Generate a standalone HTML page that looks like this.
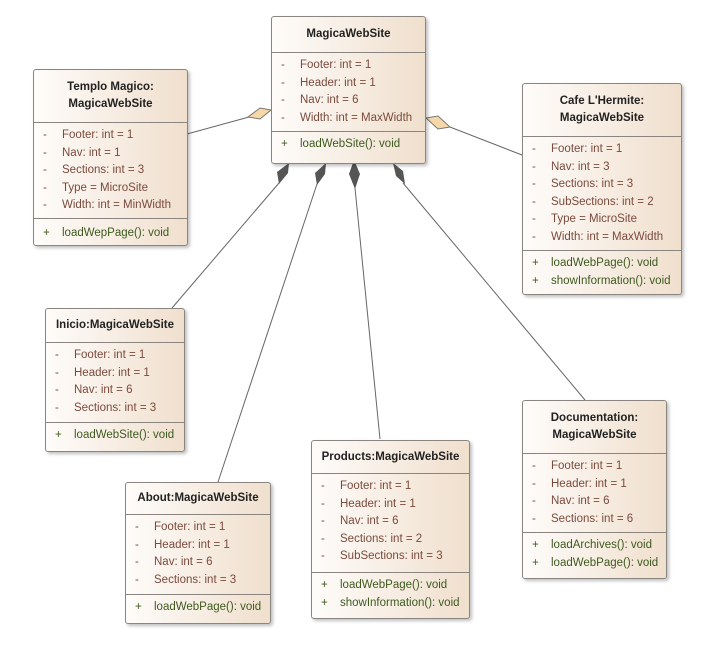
<!DOCTYPE html>
<html><head><meta charset="utf-8"><style>
body{margin:0;background:#fff;width:718px;height:650px;overflow:hidden;position:relative;font-family:"Liberation Sans",sans-serif;}
.b{position:absolute;border:1px solid #8a8580;border-radius:3px;background:linear-gradient(to right,#fefcfa,#f0dfcd);box-shadow:2px 2px 3px rgba(0,0,0,0.25);box-sizing:border-box;}
.t{font-weight:bold;font-size:11.5px;color:#222;text-align:center;line-height:17px;border-bottom:1px solid #8a8580;box-sizing:border-box;display:flex;flex-direction:column;justify-content:center;}
.s{border-bottom:1px solid #8a8580;box-sizing:border-box;padding-top:4px;}
.m{box-sizing:border-box;padding-top:4px;}
.l{position:relative;font-size:11.5px;line-height:17.5px;height:17.5px;white-space:nowrap;}
.l span{position:absolute;left:9px;}
.l i{font-style:normal;position:absolute;left:28px;}
.s .l{color:#7b4a3c}
.m .l{color:#3d5a1e}
</style></head><body>
<svg width="718" height="650" style="position:absolute;left:0;top:0">
<g stroke="#666" stroke-width="1" fill="none">
<line x1="187" y1="134" x2="249" y2="117"/>
<line x1="450" y1="127" x2="522" y2="155"/>
<line x1="279" y1="183" x2="172" y2="308"/>
<line x1="317" y1="184" x2="218" y2="482"/>
<line x1="355" y1="188" x2="380" y2="439"/>
<line x1="403" y1="183" x2="585" y2="400"/>
</g>
<polygon points="271,110 260,108 248,117 260,119" fill="#f6d8a8" stroke="#777"/>
<polygon points="426,118 438,116 450,127 438,129" fill="#f6d8a8" stroke="#777"/>
<polygon points="289,163 288,173 279,184 277,172" fill="#555"/>
<polygon points="326,163 325,174 317,185 315,173" fill="#555"/>
<polygon points="354,160 360,174 355,189 349,174" fill="#555"/>
<polygon points="393,163 403,171 405,184 396,176" fill="#555"/>
</svg>

<div class="b" style="left:271px;top:16px;width:155px;height:148px">
<div class="t" style="height:36px">MagicaWebSite</div>
<div class="s" style="height:79px">
<div class="l"><span>-</span><i>Footer: int = 1</i></div>
<div class="l"><span>-</span><i>Header: int = 1</i></div>
<div class="l"><span>-</span><i>Nav: int = 6</i></div>
<div class="l"><span>-</span><i>Width: int = MaxWidth</i></div>
</div>
<div class="m"><div class="l"><span>+</span><i>loadWebSite(): void</i></div></div>
</div>

<div class="b" style="left:33px;top:69px;width:155px;height:177px">
<div class="t" style="height:53px">Templo Magico:<br>MagicaWebSite</div>
<div class="s" style="height:96px">
<div class="l"><span>-</span><i>Footer: int = 1</i></div>
<div class="l"><span>-</span><i>Nav: int = 1</i></div>
<div class="l"><span>-</span><i>Sections: int = 3</i></div>
<div class="l"><span>-</span><i>Type = MicroSite</i></div>
<div class="l"><span>-</span><i>Width: int = MinWidth</i></div>
</div>
<div class="m" style="padding-top:6px"><div class="l"><span>+</span><i>loadWepPage(): void</i></div></div>
</div>

<div class="b" style="left:522px;top:83px;width:160px;height:212px">
<div class="t" style="height:53px">Cafe L'Hermite:<br>MagicaWebSite</div>
<div class="s" style="height:114px">
<div class="l"><span>-</span><i>Footer: int = 1</i></div>
<div class="l"><span>-</span><i>Nav: int = 3</i></div>
<div class="l"><span>-</span><i>Sections: int = 3</i></div>
<div class="l"><span>-</span><i>SubSections: int = 2</i></div>
<div class="l"><span>-</span><i>Type = MicroSite</i></div>
<div class="l"><span>-</span><i>Width: int = MaxWidth</i></div>
</div>
<div class="m"><div class="l"><span>+</span><i>loadWebPage(): void</i></div><div class="l"><span>+</span><i>showInformation(): void</i></div></div>
</div>

<div class="b" style="left:45px;top:308px;width:140px;height:144px">
<div class="t" style="height:34px">Inicio:MagicaWebSite</div>
<div class="s" style="height:80px">
<div class="l"><span>-</span><i>Footer: int = 1</i></div>
<div class="l"><span>-</span><i>Header: int = 1</i></div>
<div class="l"><span>-</span><i>Nav: int = 6</i></div>
<div class="l"><span>-</span><i>Sections: int = 3</i></div>
</div>
<div class="m"><div class="l"><span>+</span><i>loadWebSite(): void</i></div></div>
</div>

<div class="b" style="left:125px;top:482px;width:146px;height:142px">
<div class="t" style="height:32px">About:MagicaWebSite</div>
<div class="s" style="height:80px">
<div class="l"><span>-</span><i>Footer: int = 1</i></div>
<div class="l"><span>-</span><i>Header: int = 1</i></div>
<div class="l"><span>-</span><i>Nav: int = 6</i></div>
<div class="l"><span>-</span><i>Sections: int = 3</i></div>
</div>
<div class="m"><div class="l"><span>+</span><i>loadWebPage(): void</i></div></div>
</div>

<div class="b" style="left:311px;top:440px;width:159px;height:179px">
<div class="t" style="height:33px">Products:MagicaWebSite</div>
<div class="s" style="height:99px">
<div class="l"><span>-</span><i>Footer: int = 1</i></div>
<div class="l"><span>-</span><i>Header: int = 1</i></div>
<div class="l"><span>-</span><i>Nav: int = 6</i></div>
<div class="l"><span>-</span><i>Sections: int = 2</i></div>
<div class="l"><span>-</span><i>SubSections: int = 3</i></div>
</div>
<div class="m"><div class="l"><span>+</span><i>loadWebPage(): void</i></div><div class="l"><span>+</span><i>showInformation(): void</i></div></div>
</div>

<div class="b" style="left:522px;top:400px;width:145px;height:179px">
<div class="t" style="height:53px">Documentation:<br>MagicaWebSite</div>
<div class="s" style="height:79px">
<div class="l"><span>-</span><i>Footer: int = 1</i></div>
<div class="l"><span>-</span><i>Header: int = 1</i></div>
<div class="l"><span>-</span><i>Nav: int = 6</i></div>
<div class="l"><span>-</span><i>Sections: int = 6</i></div>
</div>
<div class="m"><div class="l"><span>+</span><i>loadArchives(): void</i></div><div class="l"><span>+</span><i>loadWebPage(): void</i></div></div>
</div>
</body></html>
